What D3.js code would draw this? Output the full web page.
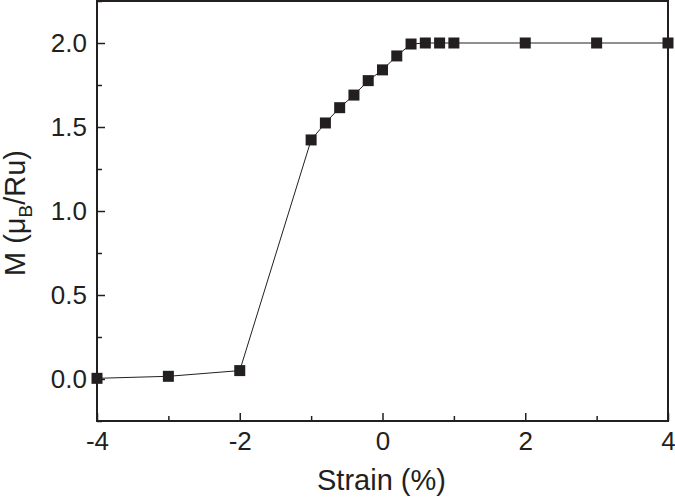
<!DOCTYPE html>
<html>
<head>
<meta charset="utf-8">
<script src="https://cdn.jsdelivr.net/npm/d3@7"></script>
<style>
  body { margin: 0; background: #fff; }
  text { font-family: "Liberation Sans", Arial, sans-serif; fill: #231f20; }
</style>
</head>
<body>
<div id="chart"></div>
<script>
const strain = [-4, -3, -2, -1, -0.8, -0.6, -0.4, -0.2, 0, 0.2, 0.4, 0.6, 0.8, 1, 2, 3, 4];
const moment = [0.004, 0.016, 0.05, 1.423, 1.524, 1.615, 1.69, 1.776, 1.84, 1.923, 1.994, 2.0, 2.0, 2.0, 2.0, 2.0, 2.0];
const xTicks = [-4, -2, 0, 2, 4];
const xMinor = [-3, -1, 1, 3];
const yTicks = [0, 0.5, 1.0, 1.5, 2.0];
const yMinor = [-0.25, 0.25, 0.75, 1.25, 1.75, 2.25];

const W = 675, H = 499;
const margin = { top: 1, right: 7, bottom: 78, left: 97 },
    width = W - margin.left - margin.right,
    height = H - margin.top - margin.bottom;

const svg = d3.select("#chart").append("svg")
  .attr("width", W).attr("height", H)
  .append("g")
  .attr("transform", `translate(${margin.left},${margin.top})`);

const x = d3.scaleLinear().domain([-4, 4]).range([0, width]);
const y = d3.scaleLinear().domain([-0.25, 2.25]).range([height, 0]);

const ink = "#231f20";

// major / minor ticks, drawn inward; plain hyphen for negatives
svg.append("g")
  .attr("transform", `translate(0,${height})`)
  .call(d3.axisBottom(x).tickValues(xTicks).tickSize(-8).tickPadding(11).tickFormat(d => String(d)));
svg.append("g")
  .attr("transform", `translate(0,${height})`)
  .call(d3.axisBottom(x).tickValues(xMinor).tickSize(-5).tickFormat(""));
svg.append("g")
  .call(d3.axisLeft(y).tickValues(yTicks).tickSize(-8).tickPadding(10).tickFormat(d => d.toFixed(1)));
svg.append("g")
  .call(d3.axisLeft(y).tickValues(yMinor).tickSize(-5).tickFormat(""));

svg.selectAll(".domain").remove();
svg.selectAll(".tick line").attr("stroke", ink).attr("stroke-width", 1.5);
svg.selectAll(".tick text").style("font-size", "26px").attr("fill", ink);

// frame
svg.append("rect")
  .attr("x", 0).attr("y", 0)
  .attr("width", width).attr("height", height)
  .attr("fill", "none").attr("stroke", ink).attr("stroke-width", 2);

const pts = strain.map((s, i) => ({ s, m: moment[i] }));

svg.append("path")
  .datum(pts)
  .attr("fill", "none")
  .attr("stroke", ink)
  .attr("stroke-width", 1)
  .attr("d", d3.line().x(d => x(d.s)).y(d => y(d.m)));

const ms = 11;
svg.selectAll(".pt")
  .data(pts)
  .enter()
  .append("rect")
  .attr("x", d => x(d.s) - ms / 2)
  .attr("y", d => y(d.m) - ms / 2)
  .attr("width", ms).attr("height", ms)
  .attr("fill", ink);

// axis titles
svg.append("text")
  .attr("x", width / 2 - 1)
  .attr("y", height + 69)
  .attr("text-anchor", "middle")
  .style("font-size", "29px")
  .text("Strain (%)");

const yl = svg.append("text")
  .attr("transform", `translate(${-72},${height / 2 + 2}) rotate(-90)`)
  .attr("text-anchor", "middle")
  .style("font-size", "29px");
yl.append("tspan").text("M (μ");
yl.append("tspan").attr("dy", 7).style("font-size", "19px").text("B");
yl.append("tspan").attr("dy", -7).text("/Ru)");
</script>
</body>
</html>
